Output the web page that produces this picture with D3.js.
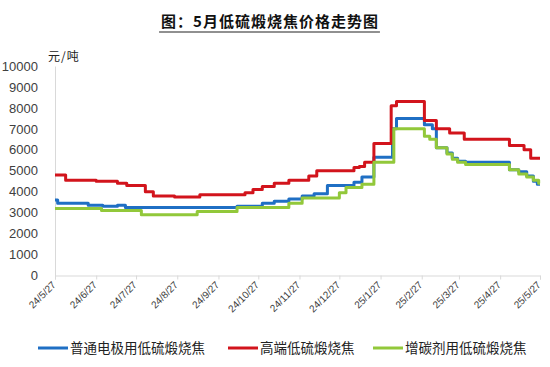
<!DOCTYPE html>
<html><head><meta charset="utf-8">
<script src="https://cdn.jsdelivr.net/npm/d3@7/dist/d3.min.js"></script>
<style>body{margin:0;background:#fff}svg{display:block}</style>
</head><body>
<svg id="c" width="550" height="367"></svg>
<script>
const title = "图：5月低硫煅烧焦价格走势图";
const unitLabel = "元/吨";
const seriesNames = ["普通电极用低硫煅烧焦", "高端低硫煅烧焦", "增碳剂用低硫煅烧焦"];
const seriesColors = ["#1f6fc4", "#d2141c", "#92c83a"];
const tickLabels = ["24/5/27","24/6/27","24/7/27","24/8/27","24/9/27","24/10/27","24/11/27","24/12/27","25/1/27","25/2/27","25/3/27","25/4/27","25/5/27"];
const tickDates = ["2024-05-27","2024-06-27","2024-07-27","2024-08-27","2024-09-27","2024-10-27","2024-11-27","2024-12-27","2025-01-27","2025-02-27","2025-03-27","2025-04-27","2025-05-27"];
const yTicks = [0,1000,2000,3000,4000,5000,6000,7000,8000,9000,10000];

// 普通电极用低硫煅烧焦 (change points)
const blueDates = ["2024-05-27","2024-05-29","2024-06-21","2024-07-02","2024-07-13","2024-07-19","2024-10-11","2024-10-30","2024-11-08","2024-11-19","2024-11-29","2024-12-08","2024-12-18","2025-01-07","2025-01-13","2025-01-22","2025-02-05","2025-02-08","2025-03-01","2025-03-07","2025-03-10","2025-03-18","2025-03-22","2025-03-26","2025-04-01","2025-05-04","2025-05-11","2025-05-17","2025-05-22","2025-05-25","2025-05-27"];
const blueValues = [3600,3450,3350,3300,3350,3250,3300,3450,3550,3650,3800,3900,4300,4450,4700,5650,7000,7500,7200,7000,6100,5850,5600,5450,5400,5050,4950,4750,4500,4350,4350];

// 高端低硫煅烧焦
const redDates = ["2024-05-27","2024-06-04","2024-06-27","2024-07-13","2024-07-20","2024-08-03","2024-08-09","2024-08-25","2024-09-13","2024-10-17","2024-10-23","2024-10-30","2024-11-08","2024-11-19","2024-12-04","2024-12-10","2025-01-07","2025-01-11","2025-01-15","2025-01-22","2025-02-04","2025-02-08","2025-03-01","2025-03-10","2025-03-20","2025-03-31","2025-05-04","2025-05-15","2025-05-20","2025-05-27"];
const redValues = [4800,4550,4500,4400,4300,4000,3800,3750,3850,3950,4100,4250,4400,4550,4750,5000,5150,5200,5400,6300,8100,8300,7400,7000,6800,6500,6200,6000,5600,5600];

// 增碳剂用低硫煅烧焦
const greenDates = ["2024-05-27","2024-07-01","2024-07-31","2024-09-11","2024-10-11","2024-11-19","2024-11-29","2024-12-27","2025-01-01","2025-01-13","2025-01-22","2025-02-06","2025-03-01","2025-03-05","2025-03-10","2025-03-18","2025-03-22","2025-03-26","2025-04-01","2025-05-04","2025-05-11","2025-05-17","2025-05-22","2025-05-26","2025-05-27"];
const greenValues = [3200,3100,2900,3050,3250,3450,3700,3950,4200,4350,5400,7000,6650,6500,6100,5800,5550,5400,5300,5050,4850,4700,4550,4400,4400];

const parse = d3.timeParse("%Y-%m-%d");
const svg = d3.select("#c");
const font = "'Liberation Sans', Arial, sans-serif";
const cjk = "'Noto Sans CJK SC', sans-serif";

const x = d3.scaleTime().domain([parse(tickDates[0]), parse(tickDates[tickDates.length-1])]).range([55, 540]);
const y = d3.scaleLinear().domain([0, 10000]).range([275.5, 66]);

// title
const t = svg.append("text").attr("x", 270).attr("y", 27).attr("text-anchor", "middle")
  .attr("font-family", cjk).attr("font-weight", "bold").attr("font-size", 15)
  .attr("letter-spacing", 1).attr("fill", "#111").text(title);
const bb = t.node().getBBox();
svg.append("line").attr("x1", bb.x - 2).attr("x2", bb.x + bb.width + 1).attr("y1", 32).attr("y2", 32)
  .attr("stroke", "#222").attr("stroke-width", 1.2);

svg.append("text").attr("x", 48).attr("y", 61).attr("font-family", cjk).attr("font-size", 12)
  .attr("letter-spacing", 1).attr("fill", "#222").text(unitLabel);

// y axis
const yAxis = svg.append("g").attr("transform", "translate(55,0)")
  .call(d3.axisLeft(y).tickValues(yTicks).tickSize(0).tickPadding(17).tickFormat(d3.format("d")));
yAxis.select(".domain").attr("stroke", "#d9d9d9");
yAxis.selectAll("text").attr("font-family", font).attr("font-size", 13).attr("fill", "#404040");

// x axis
const xAxis = svg.append("g").attr("transform", `translate(0,${y(0)})`)
  .call(d3.axisBottom(x).tickValues(tickDates.map(parse)).tickSize(4).tickFormat((d, i) => tickLabels[i]));
xAxis.select(".domain").attr("stroke", "#d9d9d9");
xAxis.selectAll(".tick line").attr("stroke", "#d9d9d9");
xAxis.selectAll("text").attr("font-family", font).attr("font-size", 10).attr("fill", "#404040")
  .attr("text-anchor", "end").attr("x", 0).attr("y", 0).attr("dy", 0).attr("dx", 0)
  .attr("transform", "translate(1,10) rotate(-45)");

const line = d3.line().x(d => x(d[0])).y(d => y(d[1])).curve(d3.curveStepAfter);
const series = [
  [blueDates, blueValues, seriesColors[0]],
  [redDates, redValues, seriesColors[1]],
  [greenDates, greenValues, seriesColors[2]]
];
series.forEach(([ds, vs, c]) => {
  const pts = ds.map((d, i) => [parse(d), vs[i]]);
  svg.append("path").datum(pts).attr("d", line).attr("fill", "none")
    .attr("stroke", c).attr("stroke-width", 3).attr("stroke-linejoin", "round");
});

// legend
const legendX = [38, 228, 373];
seriesNames.forEach((n, i) => {
  const g = svg.append("g").attr("transform", `translate(${legendX[i]},348)`);
  g.append("line").attr("x1", 0).attr("x2", 30).attr("stroke", seriesColors[i]).attr("stroke-width", 3);
  g.append("text").attr("x", 32).attr("y", 4.5).attr("font-family", cjk).attr("font-size", 13.5)
    .attr("fill", "#222").text(n);
});
</script>
</body></html>
